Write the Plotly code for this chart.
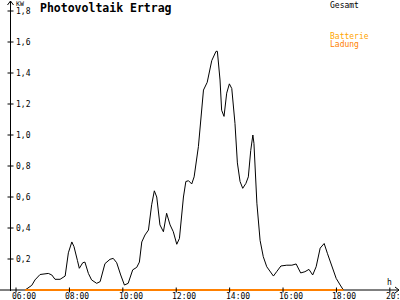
import plotly.graph_objects as go

# ---- data ----
hours = [6.34, 6.59, 6.71, 6.90, 7.21, 7.34, 7.46, 7.65, 7.84, 7.96, 8.09, 8.17, 8.30, 8.37,
         8.50, 8.58, 8.71, 8.83, 9.02, 9.15, 9.33, 9.52, 9.64, 9.77, 9.92, 10.06, 10.20,
         10.37, 10.52, 10.62, 10.71, 10.83, 10.96, 11.08, 11.18, 11.27, 11.39, 11.52, 11.64,
         11.77, 11.89, 12.02, 12.12, 12.27, 12.36, 12.46, 12.58, 12.67, 12.83, 13.02, 13.16,
         13.33, 13.49, 13.54, 13.64, 13.70, 13.79, 13.89, 13.99, 14.08, 14.20, 14.29, 14.39,
         14.49, 14.61, 14.70, 14.79, 14.87, 14.91, 15.02, 15.14, 15.26, 15.39, 15.51, 15.64,
         15.76, 15.92, 16.14, 16.33, 16.49, 16.66, 16.82, 16.97, 17.11, 17.24, 17.39, 17.54,
         17.66, 17.82, 17.99, 18.14, 18.26]
gesamt_kw = [0.0, 0.03, 0.065, 0.10, 0.107, 0.097, 0.069, 0.069, 0.09, 0.24, 0.31, 0.28, 0.19, 0.14,
             0.176, 0.18, 0.107, 0.065, 0.043, 0.054, 0.17, 0.198, 0.204, 0.176, 0.097, 0.032, 0.043,
             0.13, 0.146, 0.18, 0.31, 0.355, 0.387, 0.55, 0.64, 0.60, 0.42, 0.376, 0.495,
             0.42, 0.376, 0.295, 0.333, 0.60, 0.70, 0.705, 0.684, 0.73, 0.925, 1.29, 1.34,
             1.48, 1.54, 1.54, 1.355, 1.16, 1.12, 1.27, 1.33, 1.30, 1.075, 0.82, 0.70,
             0.656, 0.688, 0.73, 0.90, 1.0, 0.946, 0.56, 0.32, 0.215, 0.15, 0.118, 0.09,
             0.118, 0.155, 0.16, 0.16, 0.168, 0.11, 0.118, 0.133, 0.097, 0.15, 0.27, 0.30,
             0.237, 0.16, 0.075, 0.032, 0.0]
ladung_hours = [6.34, 18.26]
ladung_kw = [0.0, 0.0]

x_tick_vals = [6, 8, 10, 12, 14, 16, 18, 20]
x_tick_text = ["06:00", "08:00", "10:00", "12:00", "14:00", "16:00", "18:00", "20:00"]
y_tick_vals = [0.2, 0.4, 0.6, 0.8, 1.0, 1.2, 1.4, 1.6, 1.8]
y_tick_text = ["0,2", "0,4", "0,6", "0,8", "1,0", "1,2", "1,4", "1,6", "1,8"]

# ---- layout geometry ----
W, H = 400, 300
X0, X1 = 5.40, 20.38
Y0, Y1 = -0.0645, 1.871
FONT = "DejaVu Sans Mono"
BLACK = "#000000"
ORANGE = "#FF8000"
LIGHT_ORANGE = "#FFA500"


def dx(px):  # pixel -> data x
    return X0 + px / W * (X1 - X0)


def dy(py):  # pixel -> data y
    return Y1 - py / H * (Y1 - Y0)


def px_of_x(x):
    return (x - X0) / (X1 - X0) * W


def py_of_y(y):
    return (Y1 - y) / (Y1 - Y0) * H


fig = go.Figure()
fig.add_trace(go.Scatter(x=hours, y=gesamt_kw, mode="lines",
                         line=dict(color=BLACK, width=1), name="Gesamt",
                         hoverinfo="skip"))
fig.add_trace(go.Scatter(x=ladung_hours, y=ladung_kw, mode="lines",
                         line=dict(color=ORANGE, width=2), name="Batterie Ladung",
                         hoverinfo="skip"))

shapes = []
line_style = dict(color=BLACK, width=1)
# axes
x_axis_py = py_of_y(0)
y_axis_px = 10.5
shapes.append(dict(type="line", xref="x", yref="y", x0=dx(0), x1=dx(399), y0=0, y1=0,
                   line=line_style, layer="below"))
shapes.append(dict(type="line", xref="x", yref="y", x0=dx(y_axis_px), x1=dx(y_axis_px),
                   y0=dy(1), y1=dy(x_axis_py + 1), line=line_style, layer="below"))
# arrows
shapes.append(dict(type="path", xref="x", yref="y",
                   path=f"M {dx(y_axis_px-3)},{dy(5)} L {dx(y_axis_px)},{dy(1)} L {dx(y_axis_px+3)},{dy(5)}",
                   line=line_style))
shapes.append(dict(type="path", xref="x", yref="y",
                   path=f"M {dx(395)},{dy(x_axis_py-3)} L {dx(399)},{dy(x_axis_py)} L {dx(395)},{dy(x_axis_py+3)}",
                   line=line_style))
# ticks
for v in x_tick_vals:
    shapes.append(dict(type="line", xref="x", yref="y", x0=v, x1=v,
                       y0=dy(x_axis_py - 2.5), y1=dy(x_axis_py + 2.5), line=line_style))
for v in y_tick_vals:
    shapes.append(dict(type="line", xref="x", yref="y", x0=dx(y_axis_px - 3), x1=dx(y_axis_px + 3),
                       y0=v, y1=v, line=line_style))

annotations = []
for v, t in zip(x_tick_vals, x_tick_text):
    annotations.append(dict(x=v, y=dy(296), xref="x", yref="y", text=t, showarrow=False,
                            xanchor="left", yanchor="middle", xshift=-5,
                            font=dict(family=FONT, size=8, color=BLACK), borderpad=0))
for v, t in zip(y_tick_vals, y_tick_text):
    annotations.append(dict(x=dx(15), y=v, xref="x", yref="y", text=t, showarrow=False,
                            xanchor="left", yanchor="middle",
                            font=dict(family=FONT, size=8, color=BLACK), borderpad=0))

def txt(px, py, text, size, color=BLACK, bold=False):
    return dict(x=px / W, y=1 - py / H, xref="paper", yref="paper",
                text=f"<b>{text}</b>" if bold else text, showarrow=False,
                xanchor="left", yanchor="middle",
                font=dict(family=FONT, size=size, color=color), borderpad=0)

annotations.append(txt(15, 4, "KW", 6.5))
annotations.append(txt(386, 282, "h", 8))
annotations.append(txt(39, 8, "Photovoltaik Ertrag", 11.5, bold=True))
annotations.append(txt(329, 5, "Gesamt", 8))
annotations.append(txt(329, 36, "Batterie", 8, LIGHT_ORANGE))
annotations.append(txt(329, 44, "Ladung", 8, ORANGE))

fig.update_layout(
    width=W, height=H,
    margin=dict(l=0, r=0, t=0, b=0),
    paper_bgcolor="white", plot_bgcolor="white",
    showlegend=False,
    xaxis=dict(range=[X0, X1], visible=False, fixedrange=True),
    yaxis=dict(range=[Y0, Y1], visible=False, fixedrange=True),
    shapes=shapes,
    annotations=annotations,
)

fig.write_html("out.html", config={"displayModeBar": False})
